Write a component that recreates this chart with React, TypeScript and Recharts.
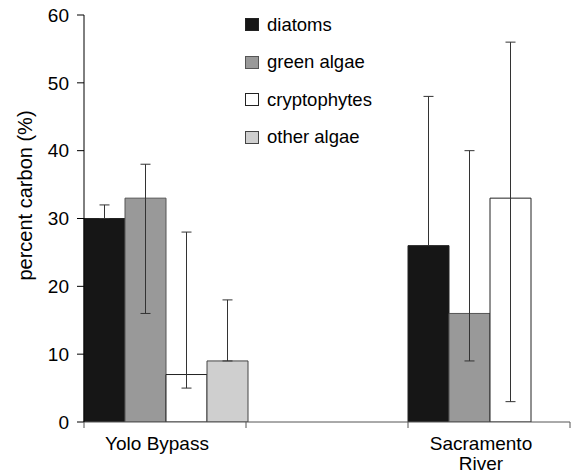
import React from 'react';
import { BarChart, Bar, XAxis, YAxis, ErrorBar, Legend, Label, Text } from 'recharts';

const categories = ['Yolo Bypass', '', 'Sacramento River'];
const diatoms = [30, null, 26];
const diatomsErr = [[0, 2], null, [0, 22]];
const greenAlgae = [33, null, 16];
const greenAlgaeErr = [[17, 5], null, [7, 24]];
const cryptophytes = [7, null, 33];
const cryptophytesErr = [[2, 21], null, [30, 23]];
const otherAlgae = [9, null, 0];
const otherAlgaeErr = [[0, 9], null, [0, 0]];
const yTicks = [0, 10, 20, 30, 40, 50, 60];

const FONT = '"Liberation Sans", Arial, Helvetica, sans-serif';
const X_TICK_SIZE = 6;
const X_TICK_MARGIN = 9;

const series = [
  { key: 'diatoms', name: 'diatoms', values: diatoms, err: diatomsErr, fill: '#161616', stroke: '#222222' },
  { key: 'green', name: 'green algae', values: greenAlgae, err: greenAlgaeErr, fill: '#999999', stroke: '#555555' },
  { key: 'crypto', name: 'cryptophytes', values: cryptophytes, err: cryptophytesErr, fill: '#ffffff', stroke: '#222222' },
  { key: 'other', name: 'other algae', values: otherAlgae, err: otherAlgaeErr, fill: '#cfcfcf', stroke: '#444444' },
];

const data = categories.map((c, i) => {
  const row: any = { category: c };
  series.forEach((s) => {
    row[s.key] = s.values[i];
    row[s.key + 'Err'] = s.err[i];
  });
  return row;
});

const XTick = (props: any) => {
  const { x, y, payload, index, width, visibleTicksCount } = props;
  const count = visibleTicksCount || categories.length;
  const band = (width || 486) / count;
  const axisY = y - X_TICK_SIZE - X_TICK_MARGIN;
  const left = x - band / 2;
  const right = x + band / 2;
  return (
    <g>
      {index !== 1 && (
        <line x1={left} y1={axisY} x2={left} y2={axisY + X_TICK_SIZE} stroke="#555" strokeWidth={1} />
      )}
      {index !== 1 && (
        <line x1={right} y1={axisY} x2={right} y2={axisY + X_TICK_SIZE} stroke="#555" strokeWidth={1} />
      )}
      {payload.value ? (
        <Text
          x={x - 8}
          y={y}
          width={120}
          textAnchor="middle"
          verticalAnchor="start"
          lineHeight={20}
          style={{ fontSize: 19, fontFamily: FONT }}
          fontSize={19}
          fontFamily={FONT}
          fill="#000"
        >
          {payload.value}
        </Text>
      ) : null}
    </g>
  );
};

const renderLegend = () => (
  <div style={{ fontFamily: FONT, fontSize: 18.5, color: '#000' }}>
    {series.map((s) => (
      <div key={s.key} style={{ display: 'flex', alignItems: 'center', height: 37.5 }}>
        <span
          style={{
            display: 'inline-block',
            width: 14,
            height: 13,
            background: s.fill,
            border: `1px solid ${s.stroke}`,
            boxSizing: 'border-box',
            marginRight: 8,
          }}
        />
        <span>{s.name}</span>
      </div>
    ))}
  </div>
);

const YLabel = (props: any) => {
  const vb = props.viewBox || { x: 0, y: 15, width: 84, height: 407 };
  const cx = 25;
  const cy = vb.y + vb.height / 2 - 23;
  return (
    <text
      x={cx}
      y={cy}
      transform={`rotate(-90 ${cx} ${cy})`}
      textAnchor="middle"
      dominantBaseline="central"
      fontSize={20}
      fontFamily={FONT}
      fill="#000"
    >
      percent carbon (%)
    </text>
  );
};

export default function App() {
  return (
    <div style={{ position: 'absolute', left: 0, top: 0, background: '#fff' }}>
      <BarChart
        width={573}
        height={475}
        data={data}
        margin={{ top: 15, right: 3, left: 0, bottom: 0 }}
        barCategoryGap={0}
        barGap={0}
      >
        <XAxis
          dataKey="category"
          height={53}
          tickLine={false}
          tickSize={X_TICK_SIZE}
          tickMargin={X_TICK_MARGIN}
          axisLine={{ stroke: '#555', strokeWidth: 1 }}
          tick={<XTick />}
          interval={0}
        />
        <YAxis
          width={84}
          domain={[0, 60]}
          ticks={yTicks}
          tickSize={7}
          tickMargin={8}
          axisLine={{ stroke: '#000', strokeWidth: 1 }}
          tickLine={{ stroke: '#000', strokeWidth: 1 }}
          tick={{ fontSize: 19, fontFamily: FONT, fill: '#000' }}
          allowDataOverflow
        >
          <Label content={<YLabel />} position="center" />
        </YAxis>
        <Legend
          layout="vertical"
          align="center"
          verticalAlign="middle"
          content={renderLegend}
          wrapperStyle={{ position: 'absolute', top: 6, left: 245, width: 'auto', height: 'auto' }}
        />
        {series.map((s) => (
          <Bar
            key={s.key}
            dataKey={s.key}
            name={s.name}
            fill={s.fill}
            stroke={s.stroke}
            strokeWidth={1}
            isAnimationActive={false}
          >
            <ErrorBar dataKey={s.key + 'Err'} width={5} stroke="#333" strokeWidth={1} direction="y" />
          </Bar>
        ))}
      </BarChart>
    </div>
  );
}
